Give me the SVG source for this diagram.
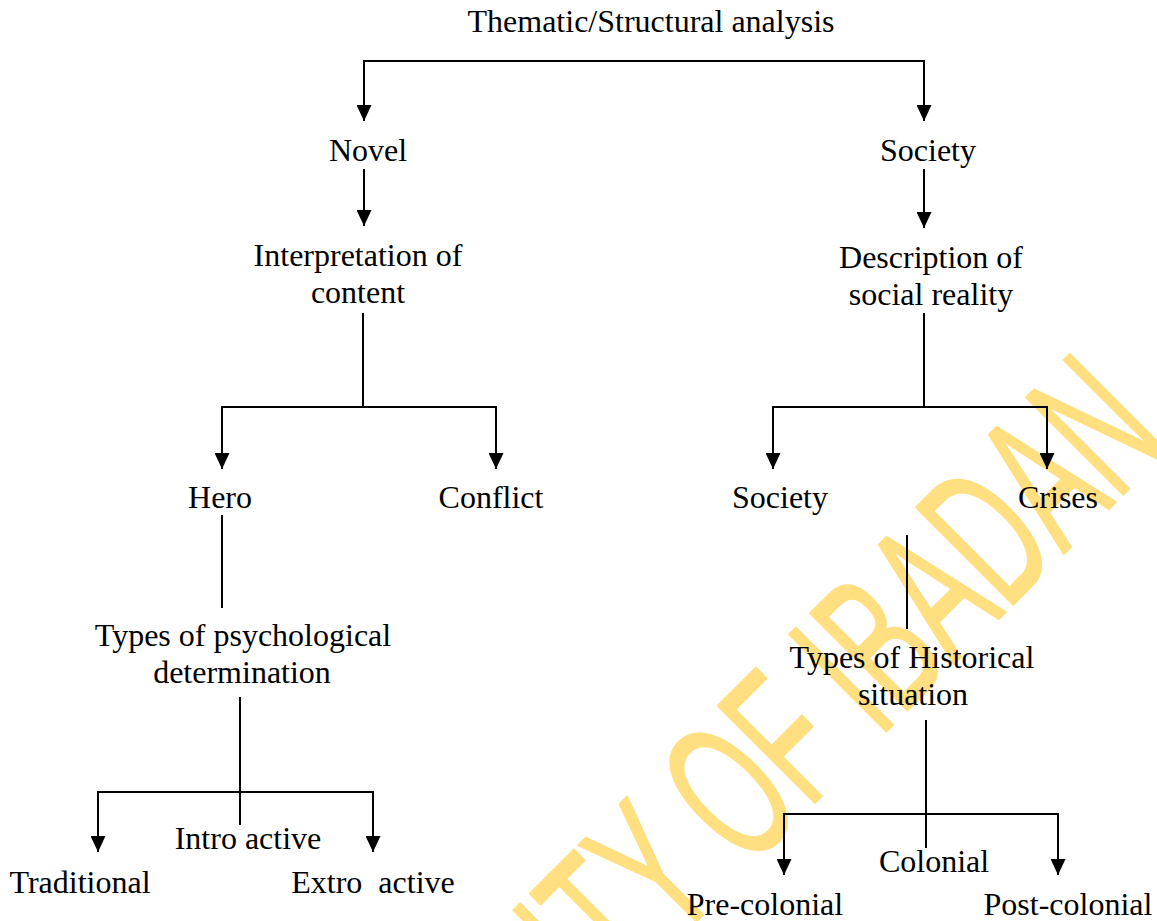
<svg xmlns="http://www.w3.org/2000/svg" width="1157" height="921" viewBox="0 0 1157 921">
  <defs>
    <marker id="arrow" viewBox="0 0 16 15" refX="16" refY="7.5" markerWidth="16" markerHeight="15" markerUnits="userSpaceOnUse" orient="auto">
      <path d="M0,0 L16,7.5 L0,15 Z" fill="#000"/>
    </marker>
  </defs>
  <style>
    .lbl { font-family: "Liberation Serif", "Times New Roman", "DejaVu Serif", serif; font-size: 32px; fill: #000; text-anchor: middle; }
    .wire { fill: none; stroke: #000; stroke-width: 2; }
    .arrowed { marker-end: url(#arrow); }
    .wm { font-family: "Liberation Sans", Arial, sans-serif; font-size: 200px; fill: #FFDF80; stroke: #FFDF80; stroke-width: 1.5; stroke-linejoin: round; vector-effect: non-scaling-stroke; }
  </style>
  <rect width="1157" height="921" fill="#fff"/>

  <!-- library watermark, laid diagonally behind the chart -->
  <g id="watermark">
    <text class="wm" transform="translate(603,1015) rotate(-45) scale(0.56,1)" x="0" y="0">ITY OF IBADAN</text>
  </g>

  <!-- connectors -->
  <g id="connectors">
    <path class="wire arrowed" d="M644,61 H364 V121"/>
    <path class="wire arrowed" d="M644,61 H924 V121"/>
    <path class="wire arrowed" d="M364,169 V226"/>
    <path class="wire arrowed" d="M924,169 V228"/>

    <path class="wire" d="M363,313 V407"/>
    <path class="wire arrowed" d="M363,407 H222 V469"/>
    <path class="wire arrowed" d="M363,407 H496 V469"/>

    <path class="wire" d="M924,313 V407"/>
    <path class="wire arrowed" d="M924,407 H773 V469"/>
    <path class="wire arrowed" d="M924,407 H1047 V469"/>

    <path class="wire" d="M222,515 V608"/>

    <path class="wire" d="M240,697 V825"/>
    <path class="wire arrowed" d="M240,792 H98 V852"/>
    <path class="wire arrowed" d="M240,792 H373 V852"/>

    <path class="wire" d="M907,535 V629"/>

    <path class="wire" d="M926,720 V848"/>
    <path class="wire arrowed" d="M926,814 H784 V875"/>
    <path class="wire arrowed" d="M926,814 H1058 V875"/>
  </g>

  <!-- nodes -->
  <g id="n-root"><text class="lbl" x="651" y="32">Thematic/Structural analysis</text></g>
  <g id="n-novel"><text class="lbl" x="368" y="161">Novel</text></g>
  <g id="n-society-top"><text class="lbl" x="928" y="161">Society</text></g>
  <g id="n-interpretation">
    <text class="lbl" x="358" y="266">Interpretation of</text>
    <text class="lbl" x="358" y="303">content</text>
  </g>
  <g id="n-description">
    <text class="lbl" x="931" y="268">Description of</text>
    <text class="lbl" x="931" y="305">social reality</text>
  </g>
  <g id="n-hero"><text class="lbl" x="220" y="508">Hero</text></g>
  <g id="n-conflict"><text class="lbl" x="491" y="508">Conflict</text></g>
  <g id="n-society-mid"><text class="lbl" x="780" y="508">Society</text></g>
  <g id="n-crises"><text class="lbl" x="1058" y="508">Crises</text></g>
  <g id="n-psych">
    <text class="lbl" x="243" y="646">Types of psychological</text>
    <text class="lbl" x="242" y="683">determination</text>
  </g>
  <g id="n-historical">
    <text class="lbl" x="912" y="668">Types of Historical</text>
    <text class="lbl" x="913" y="705">situation</text>
  </g>
  <g id="n-intro"><text class="lbl" x="248" y="849">Intro active</text></g>
  <g id="n-traditional"><text class="lbl" x="80" y="893">Traditional</text></g>
  <g id="n-extro"><text class="lbl" x="373" y="893" xml:space="preserve">Extro  active</text></g>
  <g id="n-colonial"><text class="lbl" x="934" y="872">Colonial</text></g>
  <g id="n-precolonial"><text class="lbl" x="765" y="915">Pre-colonial</text></g>
  <g id="n-postcolonial"><text class="lbl" x="1068" y="915">Post-colonial</text></g>
</svg>
